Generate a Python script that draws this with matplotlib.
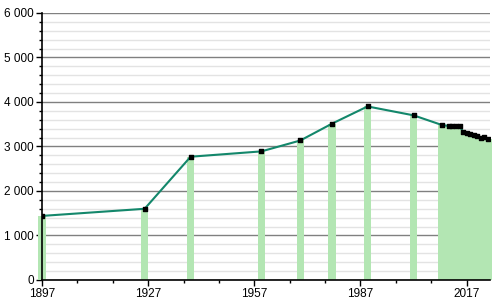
import matplotlib.pyplot as plt
from matplotlib.ticker import MultipleLocator, FuncFormatter

plt.rcParams["font.family"] = ["Liberation Sans", "DejaVu Sans"]

# data
years = [1897, 1926, 1939, 1959, 1970, 1979, 1989, 2002, 2010,
         2012, 2013, 2014, 2015, 2016, 2017, 2018, 2019, 2020, 2021, 2022, 2023]
population = [1440, 1600, 2770, 2890, 3135, 3515, 3900, 3700, 3483,
              3460, 3460, 3460, 3460, 3330, 3300, 3290, 3260, 3230, 3190, 3210, 3165]

fig = plt.figure(figsize=(5, 3), dpi=100)
ax = fig.add_axes([0.084, 0.0667, 0.896, 0.89])

ax.bar(years, population, width=2.1, color="#b3e6b3", zorder=1, clip_on=False)
ax.plot(years, population, color="#13876b", linewidth=1.5, zorder=3)
ax.scatter(years, population, marker="s", s=12, color="black", zorder=4)

ax.set_xlim(1897, 2023.6)
ax.set_ylim(0, 6000)

ax.yaxis.set_major_locator(MultipleLocator(1000))
ax.yaxis.set_minor_locator(MultipleLocator(200))
ax.xaxis.set_major_locator(MultipleLocator(30))
ax.xaxis.set_minor_locator(MultipleLocator(10))
ax.set_xticks([1897, 1927, 1957, 1987, 2017])
ax.set_xticks(range(1907, 2024, 10), minor=True)
ax.yaxis.set_major_formatter(FuncFormatter(lambda v, p: f"{int(v):,}".replace(",", " ")))

ax.grid(axis="y", which="major", color="#808080", linewidth=1, zorder=0)
ax.grid(axis="y", which="minor", color="#e3e3e3", linewidth=1, zorder=0)
ax.set_axisbelow(True)

for s in ["top", "right"]:
    ax.spines[s].set_visible(False)
ax.spines["left"].set_linewidth(1.2)
ax.spines["bottom"].set_linewidth(1.2)
ax.spines["left"].set_zorder(5)

ax.tick_params(axis="both", which="major", length=4, width=1, labelsize=8.5, pad=2)
ax.tick_params(axis="both", which="minor", length=2.5, width=1)

plt.savefig("out.png", dpi=100)
